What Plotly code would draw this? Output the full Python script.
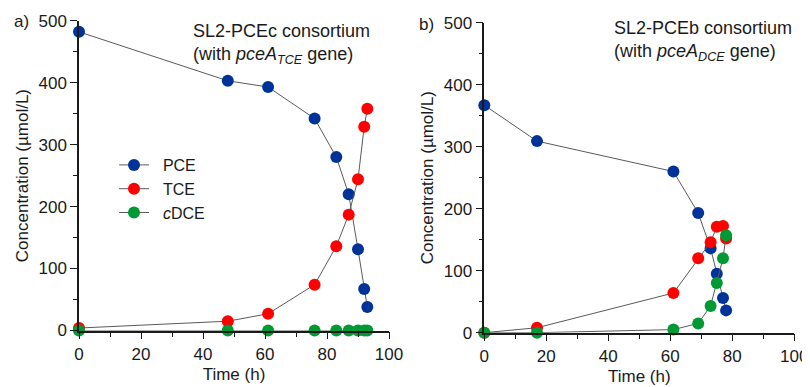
import plotly.graph_objects as go

# ---- data: panel a (SL2-PCEc) ----
time_a = [0, 48, 61, 76, 83, 87, 90, 92, 93]
pce_a = [482, 403, 393, 342, 280, 220, 131, 67, 38]
tce_a = [4, 15, 27, 74, 136, 187, 244, 329, 358]
cdce_a = [0, 0, 0, 0, 0, 0, 0, 0, 0]

# ---- data: panel b (SL2-PCEb) ----
time_b = [0, 17, 61, 69, 73, 75, 77, 78]
pce_b = [367, 309, 260, 193, 136, 95, 56, 36]
tce_b = [0, 8, 64, 120, 146, 171, 172, 152]
cdce_b = [0, 0, 5, 15, 43, 80, 120, 157]

series_names = ["PCE", "TCE", "<i>c</i>DCE"]
colors = ["#003399", "#ff0000", "#009933"]

x_ticks = [0, 20, 40, 60, 80, 100]
y_ticks = [0, 100, 200, 300, 400, 500]

FONT = "Arial, Liberation Sans, sans-serif"
OFF = 8  # page body margin
W, H = 810 - OFF, 387 - OFF

fig = go.Figure()

def add_series(xs, ys, name, color, xa, ya, show):
    fig.add_trace(go.Scatter(
        x=xs, y=ys, name=name, mode="lines+markers",
        line=dict(color="#5a5a5a", width=1),
        marker=dict(color=color, size=12, line=dict(width=0)),
        xaxis=xa, yaxis=ya, showlegend=show, cliponaxis=False,
    ))

for ys, nm, c in zip([pce_a, tce_a, cdce_a], series_names, colors):
    add_series(time_a, ys, "&nbsp;&nbsp;" + nm, c, "x", "y", True)
for ys, nm, c in zip([pce_b, tce_b, cdce_b], series_names, colors):
    add_series(time_b, ys, nm, c, "x2", "y2", False)

def px_x(v):
    return (v - OFF) / W

def px_y(v):
    return 1 - (v - OFF) / H

axis_common = dict(
    showline=True, linecolor="#1a1a1a", linewidth=1.5,
    ticks="outside", ticklen=7, tickwidth=1.3, tickcolor="#1a1a1a",
    showgrid=False, zeroline=False, automargin=False,
    tickfont=dict(family=FONT, size=17, color="#1a1a1a"),
)

xa = dict(axis_common, range=[0, 100], tickvals=x_ticks,
          minor=dict(dtick=10, ticks="outside", ticklen=5, tickwidth=1.3, tickcolor="#1a1a1a"),
          title=dict(text="Time (h)", font=dict(family=FONT, size=17, color="#1a1a1a"), standoff=5))
ya = dict(axis_common, range=[0, 500], tickvals=y_ticks,
          minor=dict(dtick=50, ticks="outside", ticklen=4, tickwidth=1.3, tickcolor="#1a1a1a"),
          title=dict(text="Concentration (µmol/L)", font=dict(family=FONT, size=17, color="#1a1a1a"), standoff=6))

fig.update_layout(
    width=W, height=H, autosize=False,
    margin=dict(l=0, r=0, t=0, b=0),
    paper_bgcolor="white", plot_bgcolor="white",
    font=dict(family=FONT, size=17, color="#1a1a1a"),
    xaxis=dict(xa, domain=[px_x(79), px_x(389)], anchor="y"),
    yaxis=dict(ya, domain=[px_y(330.5), px_y(20.7)], anchor="x"),
    xaxis2=dict(xa, domain=[px_x(484.3), px_x(794.3)], anchor="y2"),
    yaxis2=dict(ya, domain=[px_y(332.7), px_y(22.7)], anchor="x2"),
    legend=dict(x=px_x(114), y=px_y(148), xanchor="left", yanchor="top",
                bgcolor="rgba(0,0,0,0)", font=dict(family=FONT, size=16),
                tracegroupgap=0, itemwidth=30),
    showlegend=True,
)

ann = [
    dict(text="a)", x=px_x(12), y=px_y(22), xanchor="left", yanchor="middle", size=17),
    dict(text="b)", x=px_x(417), y=px_y(24), xanchor="left", yanchor="middle", size=17),
    dict(text="SL2-PCEc consortium<br>(with <i>pceA</i><sub><i>TCE</i></sub> gene)",
         x=px_x(191), y=px_y(19), xanchor="left", yanchor="top", align="left", size=18),
    dict(text="SL2-PCEb consortium<br>(with <i>pceA</i><sub><i>DCE</i></sub> gene)",
         x=px_x(612), y=px_y(16), xanchor="left", yanchor="top", align="left", size=18),
]
for a in ann:
    sz = a.pop("size")
    fig.add_annotation(xref="paper", yref="paper", showarrow=False,
                       font=dict(family=FONT, size=sz, color="#1a1a1a"), **a)

fig.write_html("out.html")
